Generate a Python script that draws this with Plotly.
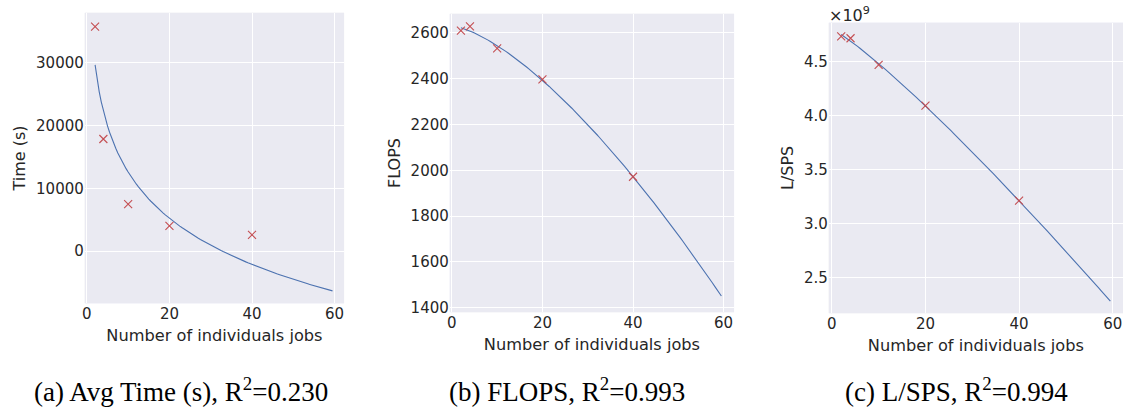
import numpy as np
import plotly.graph_objects as go

# Measured data: number of individual jobs vs. metric
jobs = [2, 4, 10, 20, 40]
avg_time = [35700, 17840, 7480, 4020, 2610]
flops = [2610, 2628, 2532, 2397, 1972]
lsps = [4.734e9, 4.716e9, 4.469e9, 4.091e9, 3.210e9]

captions = ["(a) Avg Time (s), R<sup>2</sup>=0.230",
            "(b) FLOPS, R<sup>2</sup>=0.993",
            "(c) L/SPS, R<sup>2</sup>=0.994"]
y_titles = ["Time (s)", "FLOPS", "L/SPS"]
x_title = "Number of individuals jobs"
x_ticks = [0, 20, 40, 60]

x = np.array(jobs, dtype=float)
x_fit = np.arange(2.0, 60.0, 0.5)


def fit_log(xv, yv):
    # y = a + b ln(x)
    b, a = np.polyfit(np.log(xv), yv, 1)
    return a + b * np.log(x_fit)


def fit_power_drop(xv, yv):
    # y = a - b x^c, c chosen by least squares over a grid
    best = None
    for c in np.linspace(0.5, 3.0, 501):
        A = np.vstack([np.ones_like(xv), -xv ** c]).T
        coef, *_ = np.linalg.lstsq(A, yv, rcond=None)
        r = np.sum((A @ coef - yv) ** 2)
        if best is None or r < best[0]:
            best = (r, coef, c)
    _, (a, b), c = best
    return a - b * x_fit ** c


fits = [fit_log(x, np.array(avg_time)),
        fit_power_drop(x, np.array(flops)),
        fit_power_drop(x, np.array(lsps))]
series = [avg_time, flops, lsps]

W, H = 1124, 412
# plot-area boxes in pixels: (left, top, right, bottom)
boxes = [(82, 13, 342, 307), (448, 14, 733, 316), (828, 23, 1123, 317)]
x_ranges = [[-0.5, 62.3], [-0.45, 62.3], [-0.65, 62.2]]
y_ranges = [[-8280, 37900], [1381, 2683], [2.168e9, 4.86e9]]

BG = "#EAEAF2"
TXT = "#262626"
RED = "#C44E52"
BLUE = "#4C72B0"

fig = go.Figure()
for i in range(3):
    xa = "x" if i == 0 else f"x{i+1}"
    ya = "y" if i == 0 else f"y{i+1}"
    fig.add_trace(go.Scatter(x=x_fit, y=fits[i], mode="lines",
                             line=dict(color=BLUE, width=1.1),
                             xaxis=xa, yaxis=ya, showlegend=False))
    fig.add_trace(go.Scatter(x=jobs, y=series[i], mode="markers",
                             marker=dict(symbol="x-thin", size=8,
                                         line=dict(color=RED, width=1.1)),
                             xaxis=xa, yaxis=ya, showlegend=False))

    l, t, r, b = boxes[i]
    xk = "xaxis" if i == 0 else f"xaxis{i+1}"
    yk = "yaxis" if i == 0 else f"yaxis{i+1}"
    common = dict(showgrid=True, gridcolor="white", gridwidth=1.2,
                  zeroline=False, showline=False, ticks="",
                  tickfont=dict(family="DejaVu Sans", size=15, color=TXT))
    fig.layout[xk] = dict(domain=[l / W, r / W], range=x_ranges[i],
                          anchor=ya, tickvals=x_ticks,
                          title=dict(text=x_title, standoff=7,
                                     font=dict(family="DejaVu Sans", size=16.2, color=TXT)),
                          **common)
    ydict = dict(domain=[1 - b / H, 1 - t / H], range=y_ranges[i],
                 anchor=xa,
                 title=dict(text=y_titles[i], standoff=6,
                            font=dict(family="DejaVu Sans", size=16, color=TXT)),
                 **common)
    if i == 0:
        ydict["tickvals"] = [0, 10000, 20000, 30000]
        ydict["ticktext"] = ["0", "10000", "20000", "30000"]
    elif i == 1:
        ydict["tickvals"] = [1400, 1600, 1800, 2000, 2200, 2400, 2600]
    else:
        tv = [2.5e9, 3.0e9, 3.5e9, 4.0e9, 4.5e9]
        ydict["tickvals"] = tv
        ydict["ticktext"] = [f"{v / 1e9:.1f}" for v in tv]
    fig.layout[yk] = ydict

    fig.add_shape(type="rect", xref="paper", yref="paper",
                  x0=l / W, x1=r / W, y0=1 - b / H, y1=1 - t / H,
                  fillcolor=BG, line=dict(width=0), layer="below")

# offset label of the L/SPS axis
fig.add_annotation(text="×10<sup>9</sup>", xref="paper", yref="paper",
                   x=826 / W, y=1 - 2 / H, xanchor="left", yanchor="top",
                   showarrow=False,
                   font=dict(family="DejaVu Sans", size=16, color=TXT))

cap_x = [178, 566, 956]
for cx, cap in zip(cap_x, captions):
    fig.add_annotation(text=cap, xref="paper", yref="paper",
                       x=cx / W, y=1 - 395 / H, xanchor="center", yanchor="middle",
                       showarrow=False,
                       font=dict(family="Liberation Serif", size=27, color="black"))

fig.update_layout(width=W, height=H, margin=dict(l=0, r=0, t=0, b=0),
                  paper_bgcolor="white", plot_bgcolor=BG)

fig.write_html("out.html")
